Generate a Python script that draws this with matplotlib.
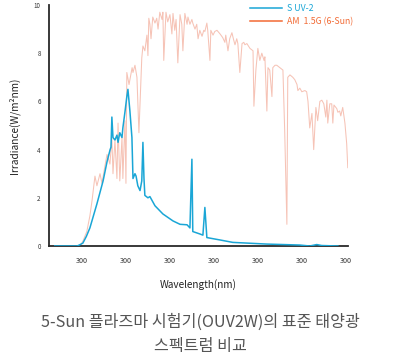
import matplotlib
matplotlib.use("Agg")
import matplotlib.pyplot as plt
from matplotlib.lines import Line2D

plt.rcParams['font.family'] = ['Noto Sans CJK KR', 'DejaVu Sans']

# SUV-2 spectrum (wavelength nm, irradiance)
suv_wl = [238, 289, 295, 302, 310, 318, 334, 348, 357, 364, 366, 368, 370.5, 375, 379.5,
          382, 386, 391, 393, 398, 402, 404.5, 409, 413.6, 416, 420.5, 423, 427, 432, 436,
          438.6, 441, 443, 450, 454.5, 466, 484, 507, 523, 539, 545.5, 550, 552, 568, 575,
          579.5, 584, 614, 643, 720, 795, 818, 834, 845, 882]
suv_val = [0, 0, 0.05, 0.12, 0.4, 0.75, 1.75, 2.7, 3.5, 4.0, 4.1, 5.35, 4.5, 4.4, 4.6,
           4.3, 4.7, 4.5, 4.9, 5.6, 6.2, 6.5, 5.6, 4.5, 2.8, 3.0, 2.9, 2.5, 2.3, 2.7,
           4.3, 2.8, 2.1, 2.0, 2.05, 1.67, 1.33, 1.04, 0.9, 0.88, 0.75, 3.6, 0.6, 0.5, 0.45,
           1.6, 0.35, 0.25, 0.15, 0.08, 0.04, 0.0, 0.06, 0.02, 0.0]

# AM 1.5G (6-Sun) spectrum
am_wl = [295.5, 302, 311, 318, 323, 329.5, 334, 341, 345.5, 352, 357, 363.6, 368, 370.5,
         375, 379.5, 382, 386, 391, 393, 397.7, 400, 402, 407, 414, 416, 420.5, 425, 429.5,
         436, 438.6, 443, 447.7, 450, 452, 454.5, 457, 461, 466, 470, 473, 477, 482, 484,
         486, 491, 495, 500, 504.5, 507, 511, 514, 518, 523, 527, 529.5, 534, 539, 541,
         545.5, 550, 552, 557, 561, 564, 568, 573, 577, 579.5, 584, 586, 591, 593, 598,
         602, 607, 614, 620, 625, 627, 632, 636, 641, 645, 648, 652, 654.5, 659, 664, 668,
         670.5, 675, 682, 689, 691, 695.5, 700, 704.5, 709, 714, 716, 720.5, 723, 727, 732,
         734, 739, 743, 750, 757, 761, 766, 768, 773, 779.5, 784, 789, 791, 795.5, 800, 807,
         811, 814, 818, 823, 827, 832, 836, 841, 845.5, 850, 854.5, 857, 859, 863.6, 868,
         870.5, 873, 879.5, 882, 886, 888.6, 893, 898, 902, 904.5]
am_val = [0, 0.2, 0.6, 1.25, 1.9, 2.9, 2.5, 3.0, 2.6, 3.3, 3.8, 3.4, 4.5, 3.0,
          4.4, 2.8, 5.1, 2.7, 4.5, 2.8, 5.2, 2.6, 7.2, 6.7, 7.4, 7.2, 7.5, 7.0, 4.7,
          7.8, 8.3, 8.1, 8.75, 7.9, 9.45, 9.2, 8.6, 9.5, 9.25, 9.45, 9.0, 9.7, 9.4, 9.7,
          7.7, 9.7, 9.3, 9.6, 8.8, 9.65, 8.95, 9.4, 7.6, 9.6, 9.2, 8.1, 9.65, 9.2, 9.5,
          9.2, 9.4, 9.25, 9.0, 9.2, 8.6, 8.95, 8.7, 8.95, 8.9, 9.25, 8.95, 7.7, 8.95, 8.75,
          8.9, 8.95, 8.8, 8.65, 8.45, 8.75, 8.1, 8.6, 8.85, 8.55, 8.35, 8.6, 8.4, 7.2, 8.4, 8.45,
          8.35, 8.4, 8.2, 8.1, 5.8, 7.3, 8.2, 7.7, 8.0, 7.7, 7.85, 5.6, 7.4, 7.3, 6.2,
          7.4, 7.5, 7.5, 7.4, 7.3, 4.8, 0.9, 7.0, 7.1, 7.0, 6.9, 6.7, 6.45, 6.55, 6.4, 6.45,
          6.4, 6.0, 4.9, 5.5, 4.0, 5.75, 5.2, 6.0, 6.05, 5.9, 5.35, 6.05, 5.1, 5.9, 5.9,
          5.1, 5.85, 5.7, 5.55, 5.6, 5.4, 5.75, 5.1, 4.25, 3.25]

x_ticks = [300, 400, 500, 600, 700, 800, 900]
x_tick_labels = ['300'] * 7
y_ticks = [0, 2, 4, 6, 8, 10]
series_names = ['S UV-2', 'AM  1.5G (6-Sun)']

blue = '#1aa6d6'
pink = '#f6c3b6'
orange = '#f26a34'

fig = plt.figure(figsize=(4.0, 3.55), dpi=100)
ax = fig.add_axes([49/400, 1-246/355, (348-49)/400, (246-5)/355])

ax.plot(am_wl, am_val, color=pink, lw=0.75, zorder=2)
ax.plot(suv_wl, suv_val, color=blue, lw=1.1, zorder=3)

ax.set_xlim(225, 905)
ax.set_ylim(0, 10)
ax.set_xticks(x_ticks)
ax.set_xticklabels(x_tick_labels)
ax.set_yticks(y_ticks)
ax.tick_params(axis='x', length=0, pad=8, labelsize=5.2, colors='#333333')
ax.tick_params(axis='y', length=0, pad=6, labelsize=4.5, colors='#333333')
for s in ['top', 'right']:
    ax.spines[s].set_visible(False)
for s in ['left', 'bottom']:
    ax.spines[s].set_color('#2a2a2a')
    ax.spines[s].set_linewidth(1.3)

ax.set_xlabel('Wavelength(nm)', fontsize=7.2, color='#222222', labelpad=10)
ax.set_ylabel('Irradiance(W/m²nm)', fontsize=7.3, color='#222222', labelpad=10)

handles = [Line2D([], [], color=blue, lw=1.1), Line2D([], [], color=orange, lw=1.1)]
leg = fig.legend(handles, series_names, loc='upper left', bbox_to_anchor=(244/400, 1+2/355),
                 frameon=False, fontsize=6.3, handlelength=3.6, handletextpad=0.6,
                 labelspacing=0.45, borderpad=0.2)
for t, c in zip(leg.get_texts(), [blue, orange]):
    t.set_color(c)

fig.text(0.5, 1-322/355, '5-Sun 플라즈마 시험기(OUV2W)의 표준 태양광', ha='center', va='center',
         fontsize=11.6, color='#555555')
fig.text(0.5, 1-347/355, '스펙트럼 비교', ha='center', va='center', fontsize=11.6, color='#555555')

fig.savefig('out.png', dpi=100)
